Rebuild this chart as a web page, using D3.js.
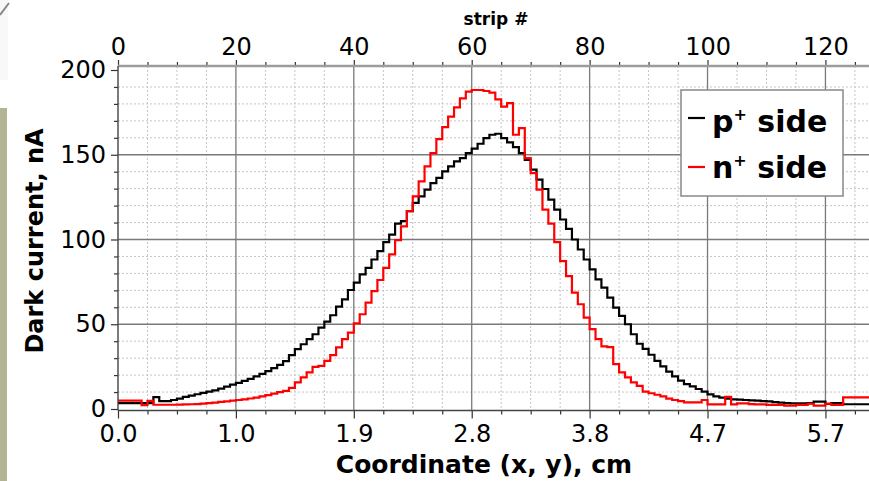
<!DOCTYPE html>
<html>
<head>
<meta charset="utf-8">
<script src="https://cdn.jsdelivr.net/npm/d3@7"></script>
<style>
  html, body { margin: 0; padding: 0; background: #fff; }
  svg { display: block; }
</style>
</head>
<body>
<svg id="chart" width="869" height="481"></svg>
<script>
// ---------------- data ----------------
const stripTicks = [0, 20, 40, 60, 80, 100, 120];
const topTickLabels = ["0", "20", "40", "60", "80", "100", "120"];
const bottomTickLabels = ["0.0", "1.0", "1.9", "2.8", "3.8", "4.7", "5.7"];
const yTicks = [0, 50, 100, 150, 200];
const seriesNames = ["p", "n"];

// dark current per strip (0..127), nA
const pSide = [
  3.5, 3.5, 3.5, 3.5, 3.5, 3.5, 7, 4.7, 4.7, 5.3,
  6.1, 7.1, 7.9, 8.7, 9.5, 10.3, 11, 12, 13.2, 14.4,
  15.4, 16.6, 17.8, 19.2, 20.7, 22.3, 24.1, 26, 28.3, 31.8,
  35.3, 38.2, 41.2, 44.1, 48.0, 51.6, 55.3, 60.4, 64.7, 70.2,
  74.5, 79.4, 83.3, 88.2, 93.1, 98.4, 102.9, 109.4, 110.8, 116.7,
  121.6, 125.5, 129.4, 133.3, 136.3, 140.2, 143.1, 146.1, 148, 151,
  153.6, 156.5, 159.8, 161.8, 162.4, 159.8, 157.3, 154.5, 151, 147,
  141.2, 135.3, 129.8, 123.5, 117.6, 111.8, 106.3, 100, 94.1, 88.2,
  82.4, 76.5, 71.6, 65.7, 59.8, 54.9, 50, 44.1, 38.5, 35.5,
  32, 28.4, 25.1, 22, 19.2, 16.7, 14.7, 13.4, 11.8, 10.3,
  8.6, 7.5, 6.7, 6.1, 5.7, 5.5, 5.3, 5.1, 4.9, 4.7,
  4.5, 4.0, 3.8, 3.5, 3.3, 3.3, 3.3, 3.5, 4.3, 4.3,
  3.0, 3.5, 3.5, 2.8, 2.8, 2.8, 2.8, 2.8
];
const nSide = [
  5, 5, 5, 5, 2.3, 4.8, 2.5, 2.5, 2.5, 2.5,
  2.6, 2.7, 2.8, 2.9, 3.2, 3.5, 3.8, 4.2, 4.5, 5.0,
  5.3, 5.7, 6.2, 6.7, 7.4, 8.2, 9.1, 9.9, 10.7, 12.5,
  15.7, 18.6, 21.6, 24.9, 25.5, 28.4, 31.8, 36.3, 41.2, 45.1,
  50.6, 55.9, 62.7, 69.6, 76.1, 83.3, 91.2, 99.6, 107.8, 116.7,
  125.5, 134.3, 143.1, 151, 159.2, 166.3, 172.5, 178, 183.3, 187.3,
  188.2, 188.2, 187.6, 186.7, 182.7, 178.4, 180.4, 161.8, 165.7, 148,
  139.2, 129.4, 117.6, 109.4, 98.4, 87.3, 78.4, 68.6, 61.8, 53.9,
  47.1, 41.2, 37, 36.5, 26.5, 21.6, 18.6, 15.7, 13.7, 10.3,
  9.3, 8.4, 7.5, 6.1, 5.3, 4.7, 3.9, 3.9, 3.9, 5.3,
  2.7, 2.7, 2.7, 7.2, 2.7, 3.3, 3.3, 2.9, 2.7, 2.7,
  2.4, 2.4, 2.4, 2.0, 2.0, 2.4, 2.4, 3.1, 2.0, 2.0,
  3.1, 2.4, 2.4, 6.9, 6.9, 6.9, 6.9, 6.9
];

// ---------------- layout ----------------
const svg = d3.select("#chart");
const W = 869, H = 481;
const plotLeft = 118, plotTop = 66, plotBottom = 410.5, plotRight = 869;
const nStrips = pSide.length;

const x = d3.scaleLinear().domain([0, nStrips]).range([118, 872.6]);
const y = d3.scaleLinear().domain([0, 200]).range([409, 70]);

const font = "'DejaVu Sans', sans-serif";

// decorations at left edge (cropped screenshot artefacts)
svg.append("rect").attr("x", 0).attr("y", 0).attr("width", 8).attr("height", 80).attr("fill", "#f8f8f8");
svg.append("rect").attr("x", 0).attr("y", 108).attr("width", 7).attr("height", H - 108).attr("fill", "#b4b394");
svg.append("line").attr("x1", 0).attr("y1", 15).attr("x2", 9).attr("y2", 3).attr("stroke", "#888").attr("stroke-width", 2);

// clip
svg.append("clipPath").attr("id", "plotclip").append("rect")
  .attr("x", plotLeft).attr("y", plotTop).attr("width", plotRight - plotLeft).attr("height", plotBottom - plotTop);

const grid = svg.append("g");
// minor grid
const minorX = d3.range(5, nStrips, 5).filter(v => v % 20 !== 0);
const minorY = d3.range(10, 200, 10).filter(v => v % 50 !== 0);
grid.selectAll(".mgx").data(minorX).join("line")
  .attr("x1", d => x(d)).attr("x2", d => x(d)).attr("y1", plotTop).attr("y2", plotBottom)
  .attr("stroke", "#c4c4c4").attr("stroke-width", 1).attr("stroke-dasharray", "2,2");
grid.selectAll(".mgy").data(minorY).join("line")
  .attr("x1", plotLeft).attr("x2", plotRight).attr("y1", d => y(d)).attr("y2", d => y(d))
  .attr("stroke", "#c4c4c4").attr("stroke-width", 1).attr("stroke-dasharray", "2,2");
// major grid
grid.selectAll(".Mgx").data(stripTicks.filter(v => v > 0)).join("line")
  .attr("x1", d => x(d)).attr("x2", d => x(d)).attr("y1", plotTop).attr("y2", plotBottom)
  .attr("stroke", "#7a7a7a").attr("stroke-width", 1.3);
grid.selectAll(".Mgy").data(yTicks.filter(v => v > 0 && v < 200)).join("line")
  .attr("x1", plotLeft).attr("x2", plotRight).attr("y1", d => y(d)).attr("y2", d => y(d))
  .attr("stroke", "#7a7a7a").attr("stroke-width", 1.3);

// ---------------- data lines ----------------
const line = d3.line().x(d => x(d[0])).y(d => y(d[1])).curve(d3.curveStepAfter);
function pts(arr) {
  const p = arr.map((v, i) => [i, v]);
  p.push([arr.length, arr[arr.length - 1]]);
  return p;
}
const dataG = svg.append("g").attr("clip-path", "url(#plotclip)");
dataG.append("path").attr("d", line(pts(pSide))).attr("fill", "none").attr("stroke", "#000").attr("stroke-width", 2.2);
dataG.append("path").attr("d", line(pts(nSide))).attr("fill", "none").attr("stroke", "#ff0000").attr("stroke-width", 2.2);

// ---------------- axes ----------------
function styleAxis(g) {
  g.select(".domain").remove();
  g.selectAll(".tick line").attr("stroke", "#333").attr("stroke-width", 1.2);
  g.selectAll(".tick text").attr("fill", "#000").style("font-family", font).style("font-size", "24px");
}
// bottom
const bottomAxis = d3.axisBottom(x).tickValues(stripTicks).tickSize(8).tickPadding(6)
  .tickFormat((d, i) => bottomTickLabels[i]);
svg.append("g").attr("transform", `translate(0,${plotBottom})`).call(bottomAxis).call(styleAxis);
svg.append("g").attr("transform", `translate(0,${plotBottom})`)
  .call(d3.axisBottom(x).tickValues(d3.range(5, nStrips, 5).filter(v => v % 20 !== 0)).tickSize(4).tickFormat(""))
  .call(styleAxis);
// top
const topAxis = d3.axisTop(x).tickValues(stripTicks).tickSize(6).tickPadding(5)
  .tickFormat((d, i) => topTickLabels[i]);
svg.append("g").attr("transform", `translate(0,${plotTop})`).call(topAxis).call(styleAxis);
svg.append("g").attr("transform", `translate(0,${plotTop})`)
  .call(d3.axisTop(x).tickValues(d3.range(5, nStrips, 5).filter(v => v % 20 !== 0)).tickSize(4).tickFormat(""))
  .call(styleAxis);
// left
const leftAxis = d3.axisLeft(y).tickValues(yTicks).tickSize(7).tickPadding(5).tickFormat(d3.format("d"));
svg.append("g").attr("transform", `translate(${plotLeft},0)`).call(leftAxis).call(styleAxis);
svg.append("g").attr("transform", `translate(${plotLeft},0)`)
  .call(d3.axisLeft(y).tickValues(d3.range(10, 200, 10).filter(v => v % 50 !== 0)).tickSize(4).tickFormat(""))
  .call(styleAxis);

// axis lines
svg.append("line").attr("x1", plotLeft).attr("x2", plotRight).attr("y1", plotTop).attr("y2", plotTop)
  .attr("stroke", "#9c9c9c").attr("stroke-width", 2.5);
svg.append("line").attr("x1", plotLeft).attr("x2", plotRight).attr("y1", plotBottom).attr("y2", plotBottom)
  .attr("stroke", "#444").attr("stroke-width", 1.4);
svg.append("line").attr("x1", plotLeft).attr("x2", plotLeft).attr("y1", plotTop).attr("y2", plotBottom)
  .attr("stroke", "#444").attr("stroke-width", 1.4);

// ---------------- titles ----------------
svg.append("text").attr("x", 484).attr("y", 473).attr("text-anchor", "middle")
  .style("font-family", font).style("font-weight", "bold").style("font-size", "25px")
  .text("Coordinate (x, y), cm");
svg.append("text").attr("transform", "translate(43,241) rotate(-90)").attr("text-anchor", "middle")
  .style("font-family", font).style("font-weight", "bold").style("font-size", "24px")
  .text("Dark current, nA");
svg.append("text").attr("x", 496).attr("y", 25).attr("text-anchor", "middle")
  .style("font-family", font).style("font-weight", "bold").style("font-size", "17px")
  .text("strip #");

// ---------------- legend ----------------
const lg = svg.append("g");
lg.append("rect").attr("x", 681).attr("y", 90).attr("width", 162).attr("height", 106)
  .attr("fill", "#fff").attr("stroke", "#888").attr("stroke-width", 1.5);
const legendItems = [
  { name: seriesNames[0], color: "#000", ly: 118, ty: 132 },
  { name: seriesNames[1], color: "#ff0000", ly: 167, ty: 178 }
];
legendItems.forEach(it => {
  lg.append("line").attr("x1", 688).attr("x2", 705).attr("y1", it.ly).attr("y2", it.ly)
    .attr("stroke", it.color).attr("stroke-width", 2.2);
  const t = lg.append("text").attr("x", 712).attr("y", it.ty)
    .style("font-family", font).style("font-weight", "bold").style("font-size", "30px");
  t.append("tspan").text(it.name);
  t.append("tspan").attr("dy", -12).style("font-size", "16px").text("+");
  t.append("tspan").attr("dy", 12).text(" side");
});
</script>
</body>
</html>
